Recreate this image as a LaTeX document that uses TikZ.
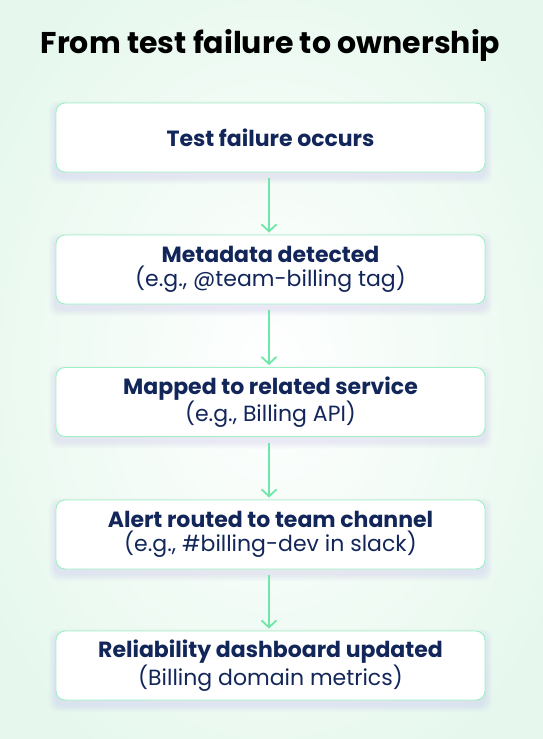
\documentclass[tikz,border=0pt]{standalone}
\usepackage{fontspec}
\setmainfont{Poppins}
\usetikzlibrary{arrows.meta}
\definecolor{navy}{HTML}{12265A}
\definecolor{mint}{HTML}{E6F8ED}
\definecolor{boxline}{HTML}{9EEFC4}
\definecolor{arrowc}{HTML}{70E6A8}
\definecolor{lav}{HTML}{B9A8F0}
\tikzset{
  flowbox/.style={draw=boxline, line width=0.9pt, fill=white, rounded corners=9pt,
    minimum width=429pt, minimum height=69pt, inner sep=0pt, align=center,
    text=navy, font=\fontsize{22}{24.5}\selectfont},
  flowarrow/.style={draw=arrowc, line width=1.8pt, -{Straight Barb[length=7pt,width=15pt,line width=1.8pt]}},
}
\newcommand{\boxshadow}[1]{%
  \foreach \k in {1,...,7}{
    \fill[lav, opacity=0.035, rounded corners=9pt]
      ([xshift=-\k pt, yshift=-5pt+\k pt]#1.north west) rectangle ([xshift=\k pt, yshift=-5pt-\k pt]#1.south east);
  }}
\begin{document}
\begin{tikzpicture}[x=1pt,y=-1pt]
\useasboundingbox (0,0) rectangle (542,739);
\shade[inner color=white, outer color=mint] (-60,-80) rectangle (602,819);
\node[font=\fontsize{30}{34}\selectfont\bfseries, text=black, anchor=base, inner sep=0pt] (title) at (270.5,53) {From test failure to ownership};
\coordinate (c1) at (270.5,137.5);
\coordinate (c2) at (270.5,269.5);
\coordinate (c3) at (270.5,402);
\coordinate (c4) at (270.5,534.5);
\coordinate (c5) at (270.5,665.5);
\foreach \i in {1,...,5}{
  \node[minimum width=429pt, minimum height=69pt, inner sep=0pt] (s\i) at (c\i) {};
  \boxshadow{s\i}
}
\node[flowbox] (b1) at (c1) {\textbf{Test failure occurs}};
\node[flowbox] (b2) at (c2) {\textbf{Metadata detected}\\(e.g., @team-billing tag)};
\node[flowbox] (b3) at (c3) {\textbf{Mapped to related service}\\(e.g., Billing API)};
\node[flowbox] (b4) at (c4) {\textbf{Alert routed to team channel}\\(e.g., \#billing-dev in slack)};
\node[flowbox] (b5) at (c5) {\textbf{Reliability dashboard updated}\\(Billing domain metrics)};
\foreach \a/\b in {b1/b2,b2/b3,b3/b4,b4/b5}{
  \draw[flowarrow] ([xshift=-1.5pt,yshift=-6pt]\a.south) -- ([xshift=-1.5pt,yshift=2pt]\b.north);
}
\end{tikzpicture}
\end{document}
